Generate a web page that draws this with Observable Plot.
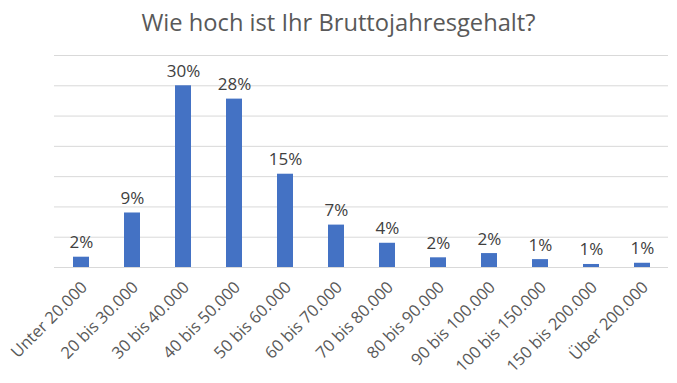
<!DOCTYPE html>
<html>
<head>
<meta charset="utf-8">
<script src="https://cdn.jsdelivr.net/npm/d3@7"></script>
<script src="https://cdn.jsdelivr.net/npm/@observablehq/plot@0.6"></script>
<style>
  html, body { margin: 0; padding: 0; background: #fff; }
  #wrap { width: 677px; height: 383px; position: relative; overflow: hidden; }
  #title { height: 45px; line-height: 44px; text-align: center; font-family: "Open Sans", sans-serif; font-size: 23.7px; color: #595959; }
</style>
</head>
<body>
<div id="wrap">
  <div id="title">Wie hoch ist Ihr Bruttojahresgehalt?</div>
  <div id="chart"></div>
</div>
<script>
const categories = ["Unter 20.000", "20 bis 30.000", "30 bis 40.000", "40 bis 50.000", "50 bis 60.000", "60 bis 70.000", "70 bis 80.000", "80 bis 90.000", "90 bis 100.000", "100 bis 150.000", "150 bis 200.000", "Über 200.000"];
const values = [1.7, 9.0, 30.0, 27.8, 15.4, 7.0, 4.0, 1.6, 2.3, 1.3, 0.5, 0.7];
const valueLabels = ["2%", "9%", "30%", "28%", "15%", "7%", "4%", "2%", "2%", "1%", "1%", "1%"];
const yTicks = [0, 5, 10, 15, 20, 25, 30, 35];

const data = categories.map((c, i) => ({category: c, value: values[i], label: valueLabels[i]}));

const chart = Plot.plot({
  width: 677,
  height: 338,
  marginTop: 10,
  marginBottom: 116,
  marginLeft: 54,
  marginRight: 9,
  style: {fontFamily: "'Open Sans', sans-serif", background: "#fff", overflow: "visible"},
  x: {domain: categories, paddingInner: 0.69, paddingOuter: 0.345, label: null},
  y: {domain: [0, 35], label: null, axis: null},
  marks: [
    Plot.ruleY(yTicks, {stroke: "#d9d9d9", strokeWidth: 1}),
    Plot.barY(data, {x: "category", y: "value", fill: "#4472c4"}),
    Plot.text(data, {x: "category", y: "value", text: "label", lineAnchor: "bottom", dy: -9, fontSize: 17, fill: "#404040"}),
    Plot.axisX({tickSize: 0, tickPadding: 17, dx: 3, tickRotate: -45, fontSize: 16.5, color: "#595959", label: null})
  ]
});
document.getElementById("chart").appendChild(chart);
</script>
</body>
</html>
